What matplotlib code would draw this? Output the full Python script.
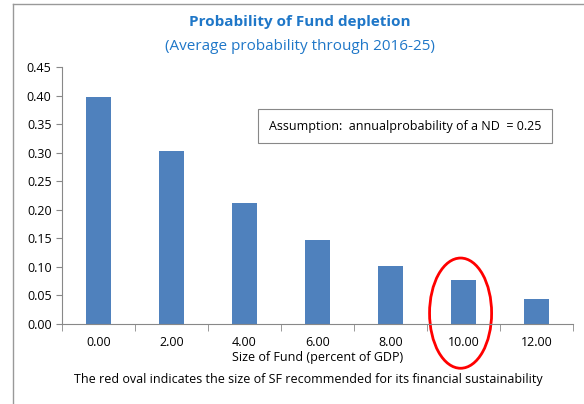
import numpy as np
import matplotlib
matplotlib.use("Agg")
from matplotlib import pyplot as plt
from matplotlib.patches import Ellipse
from matplotlib.lines import Line2D

sizes = ['0.00', '2.00', '4.00', '6.00', '8.00', '10.00', '12.00']
prob = [0.397, 0.303, 0.211, 0.147, 0.102, 0.077, 0.043]

plt.rcParams['font.family'] = ['Open Sans', 'DejaVu Sans']

fig = plt.figure(figsize=(5.84, 4.04), dpi=100)
ax = fig.add_axes([62/584, 1-324/404, (573-62)/584, (324-67)/404])

x = np.arange(len(sizes))
ax.bar(x, prob, width=0.34, color='#4F81BD')
ax.set_xlim(-0.5, len(sizes)-0.5)
ax.set_ylim(0, 0.45)
ax.set_yticks(np.arange(0, 0.451, 0.05))
ax.set_yticklabels(['%.2f' % v for v in np.arange(0, 0.451, 0.05)], fontsize=9)
ax.set_xticks(x)
ax.set_xticklabels(sizes, fontsize=9)
ax.set_xticks(np.arange(-0.5, len(sizes), 1), minor=True)
ax.tick_params(axis='x', which='major', length=0, pad=9)
ax.tick_params(axis='x', which='minor', length=5, color='#888888', direction='out')
ax.tick_params(axis='y', length=4, color='#888888', direction='out')
for s in ['top', 'right']:
    ax.spines[s].set_visible(False)
for s in ['left', 'bottom']:
    ax.spines[s].set_color('#888888')
ax.set_xlabel('Size of Fund (percent of GDP)', fontsize=9, labelpad=1)

# red oval around 10.00
ov = Ellipse((4.96, 0.019), 0.85, 0.193, fill=False, edgecolor='red', lw=2, clip_on=False)
ax.add_patch(ov)

ax.text(0.671, 0.770, 'Assumption:  annualprobability of a ND  = 0.25', transform=ax.transAxes,
        ha='center', va='center', fontsize=9,
        bbox=dict(boxstyle='square,pad=0.85', fc='white', ec='#888888', lw=0.8))

fig.text(300/584, 1-22/404, 'Probability of Fund depletion', ha='center', va='center',
         fontsize=11, fontweight='bold', color='#1F77C8')
fig.text(300/584, 1-46/404, '(Average probability through 2016-25)', ha='center', va='center',
         fontsize=11, color='#1F77C8')
fig.text(308/584, 1-380/404, 'The red oval indicates the size of SF recommended for its financial sustainability',
         ha='center', va='center', fontsize=9)

# outer chart frame (cropped)
fig.add_artist(Line2D([13/584, 13/584], [0, 1-4/404], color='#999999', lw=1))
fig.add_artist(Line2D([13/584, 1], [1-4/404, 1-4/404], color='#999999', lw=1))

fig.savefig('out.png', dpi=100)
